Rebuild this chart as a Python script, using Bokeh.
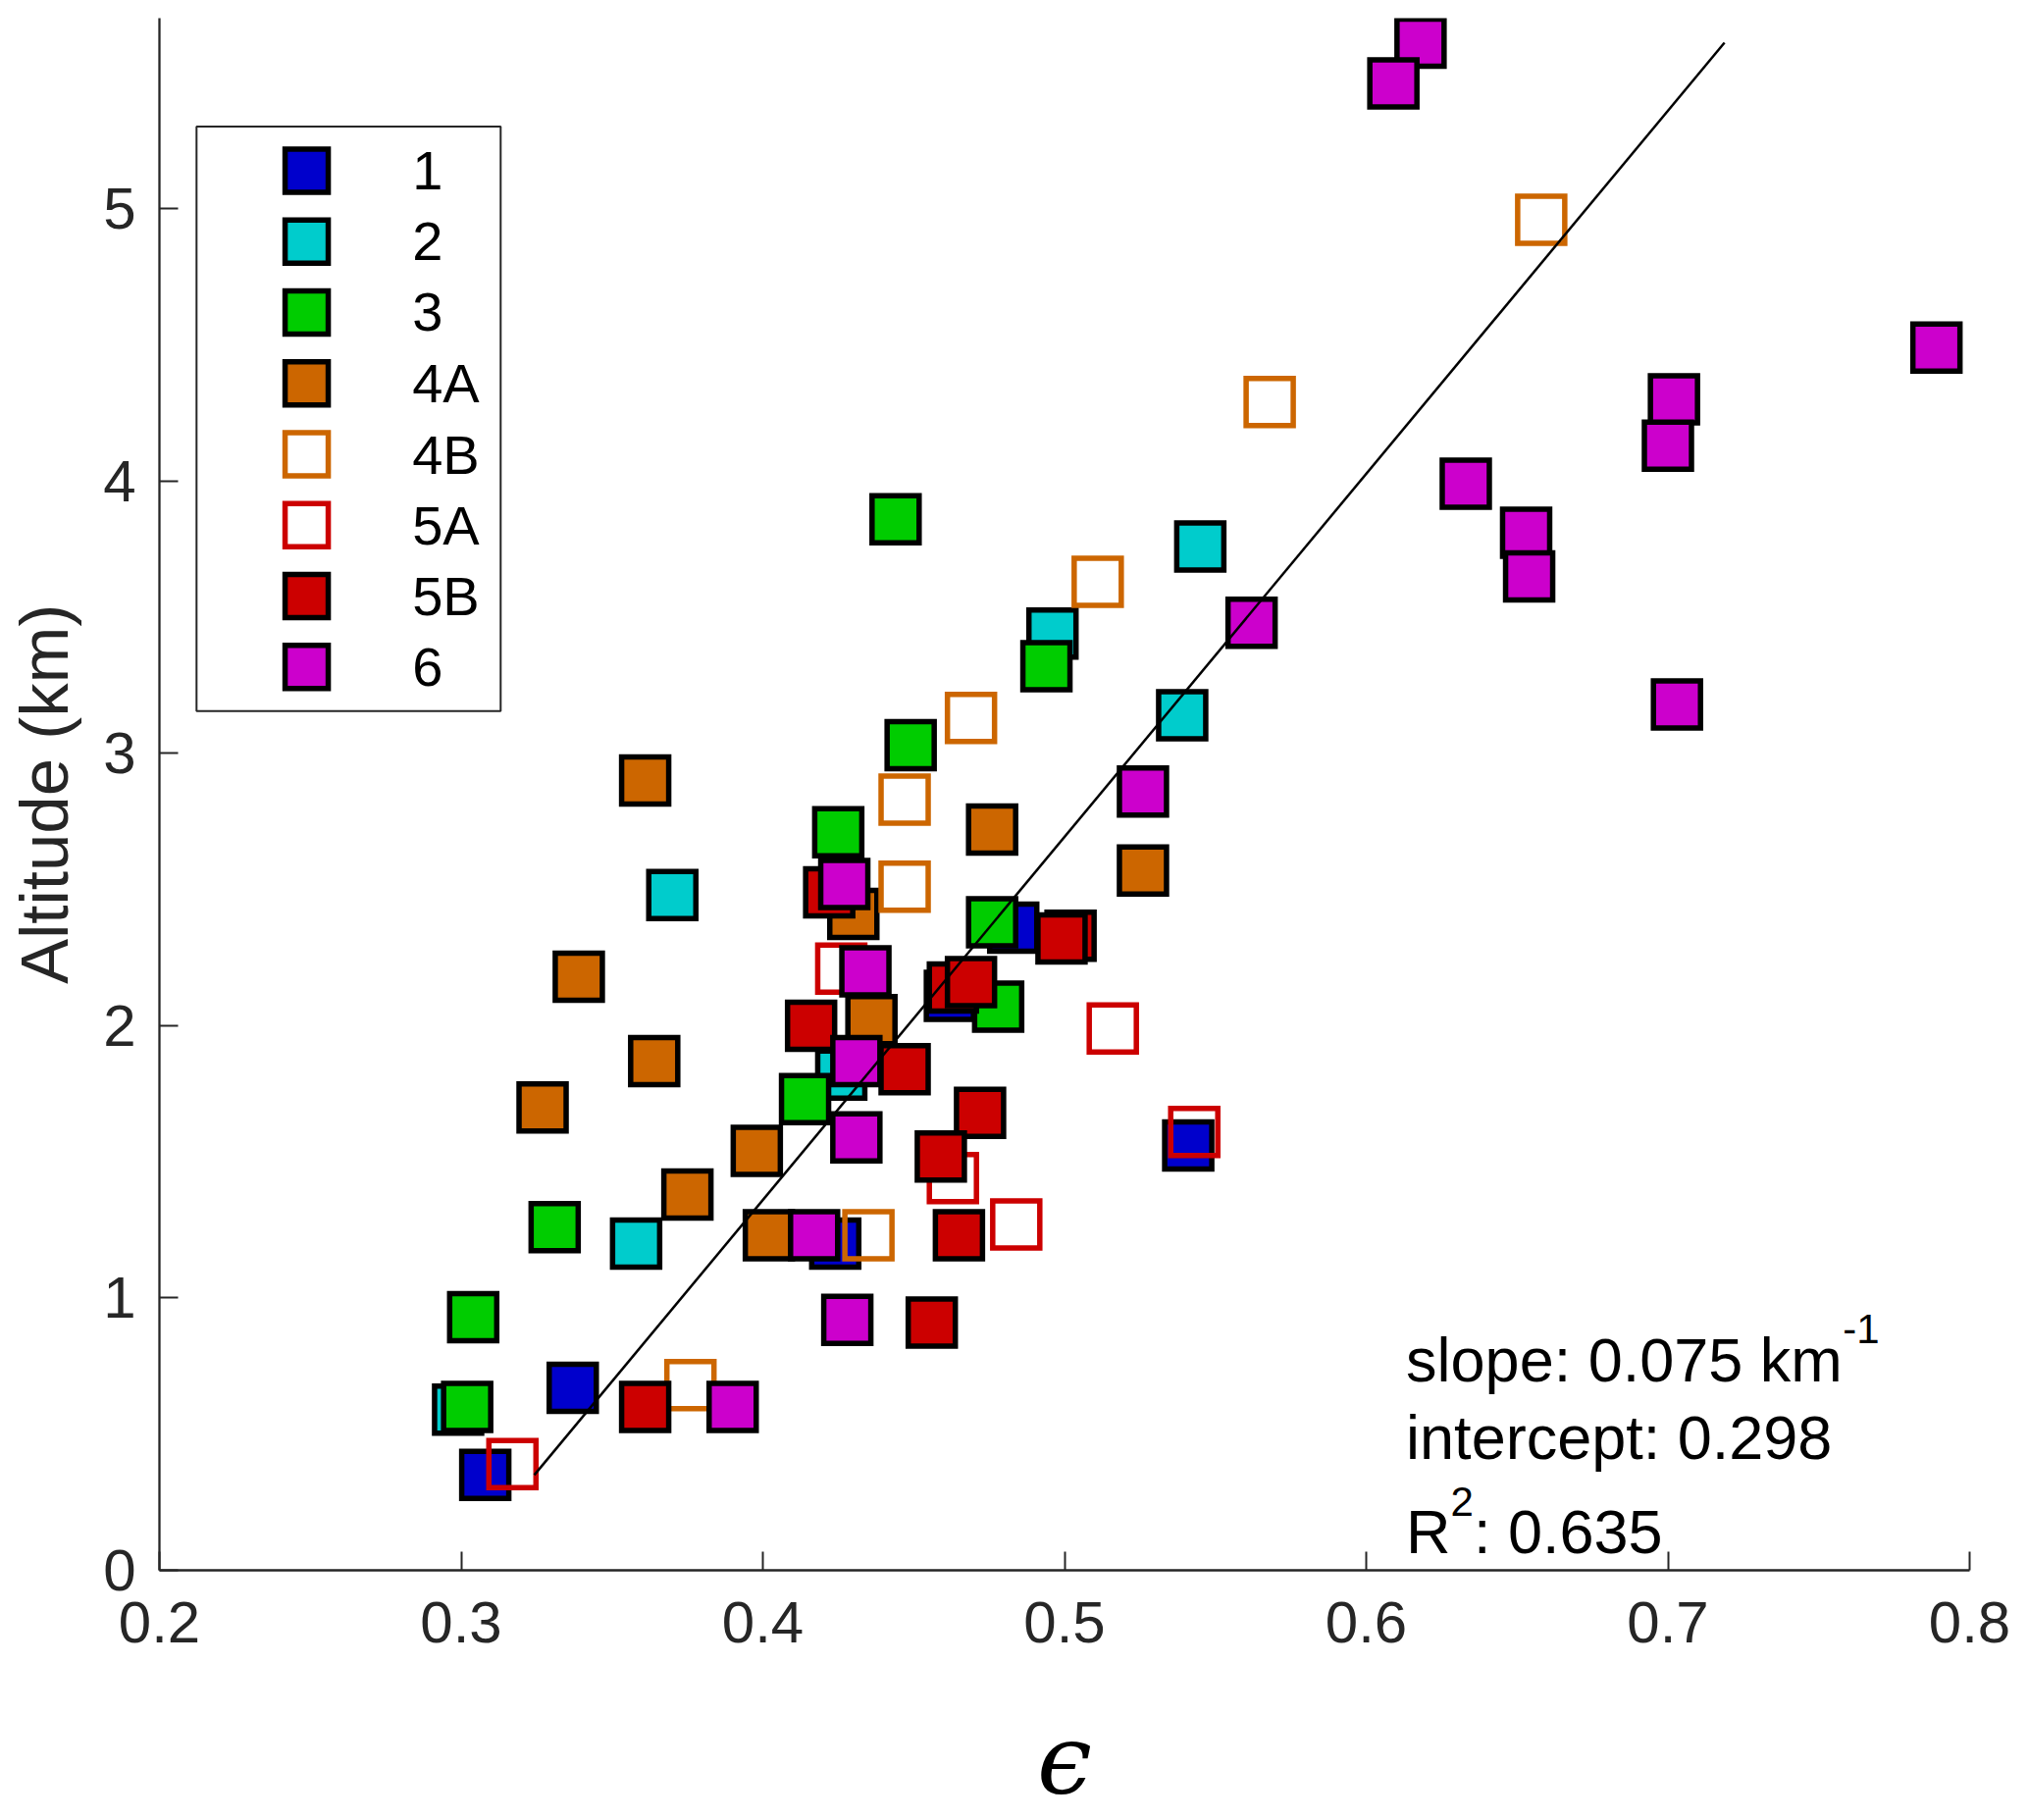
from bokeh.plotting import figure
from bokeh.models import Range1d, FixedTicker
from bokeh.core.properties import value
from bokeh.embed import file_html
from bokeh.resources import INLINE

# groups, in drawing order
labels = ["1", "2", "3", "4A", "4B", "5A", "5B", "6"]
colors = ["#0000CC", "#00CCCC", "#00CC00", "#CC6600", "#CC6600", "#CC0000", "#CC0000", "#CC00CC"]
filled = [True, True, True, True, False, False, True, True]

eps_1 = [0.483, 0.462, 0.541, 0.424, 0.337, 0.308]
alt_1 = [2.36, 2.11, 1.56, 1.20, 0.67, 0.35]

eps_2 = [0.545, 0.496, 0.539, 0.370, 0.426, 0.358, 0.299]
alt_2 = [3.76, 3.44, 3.14, 2.48, 1.82, 1.20, 0.59]

eps_3 = [0.444, 0.494, 0.449, 0.425, 0.476, 0.478, 0.414, 0.331, 0.304, 0.302]
alt_3 = [3.86, 3.32, 3.03, 2.71, 2.38, 2.07, 1.73, 1.26, 0.93, 0.60]

eps_4a = [0.361, 0.476, 0.526, 0.430, 0.339, 0.436, 0.364, 0.327, 0.398, 0.375, 0.402]
alt_4a = [2.90, 2.72, 2.57, 2.41, 2.18, 2.02, 1.87, 1.70, 1.54, 1.38, 1.23]

eps_4b = [0.658, 0.568, 0.511, 0.469, 0.447, 0.447, 0.435, 0.376]
alt_4b = [4.96, 4.29, 3.63, 3.13, 2.83, 2.51, 1.23, 0.68]

eps_5a = [0.426, 0.516, 0.543, 0.463, 0.484, 0.317]
alt_5a = [2.21, 1.99, 1.61, 1.44, 1.27, 0.39]

eps_5b = [0.422, 0.502, 0.499, 0.463, 0.469, 0.416, 0.447, 0.472, 0.459, 0.465, 0.456, 0.361]
alt_5b = [2.49, 2.33, 2.32, 2.14, 2.16, 2.00, 1.84, 1.68, 1.52, 1.23, 0.91, 0.60]

eps_6 = [0.618, 0.609, 0.789, 0.702, 0.700, 0.633, 0.653, 0.654, 0.562, 0.703,
         0.526, 0.427, 0.434, 0.431, 0.431, 0.417, 0.428, 0.390]
alt_6 = [5.61, 5.46, 4.49, 4.30, 4.13, 3.99, 3.81, 3.65, 3.48, 3.18,
         2.86, 2.52, 2.20, 1.87, 1.59, 1.23, 0.92, 0.60]

# linear fit: eps = intercept + slope * altitude
slope = 0.075
intercept = 0.298
r2 = 0.635

x_ticks = [0.2, 0.3, 0.4, 0.5, 0.6, 0.7, 0.8]
y_ticks = [0, 1, 2, 3, 4, 5]

eps_sets = [eps_1, eps_2, eps_3, eps_4a, eps_4b, eps_5a, eps_5b, eps_6]
alt_sets = [alt_1, alt_2, alt_3, alt_4a, alt_4b, alt_5a, alt_5b, alt_6]

FONT = "Liberation Sans"
AXC = "#262626"

p = figure(width=2060, height=1855, x_range=Range1d(0.2, 0.8), y_range=Range1d(0, 5.7),
           output_backend="svg", toolbar_location=None,
           min_border_left=162, min_border_right=53, min_border_top=18, min_border_bottom=255)
p.outline_line_color = None
p.grid.visible = False

p.xaxis.ticker = FixedTicker(ticks=x_ticks)
p.yaxis.ticker = FixedTicker(ticks=y_ticks)
for ax in (p.xaxis[0], p.yaxis[0]):
    ax.axis_line_color = AXC
    ax.axis_line_width = 2.3
    ax.major_tick_line_color = AXC
    ax.major_tick_line_width = 2
    ax.major_tick_in = 19
    ax.major_tick_out = 0
    ax.minor_tick_in = 0
    ax.minor_tick_out = 0
    ax.major_label_text_font = FONT
    ax.major_label_text_font_size = "60px"
    ax.major_label_text_color = AXC
p.xaxis.major_label_standoff = 32
p.yaxis.major_label_standoff = 24

p.yaxis.axis_label = "Altitude (km)"
p.yaxis.axis_label_text_font = FONT
p.yaxis.axis_label_text_font_size = "69px"
p.yaxis.axis_label_text_font_style = "normal"
p.yaxis.axis_label_text_color = AXC
p.yaxis.axis_label_standoff = 18

p.xaxis.axis_label = "\u03f5"
p.xaxis.axis_label_text_font = "DejaVu Serif"
p.xaxis.axis_label_text_font_size = "100px"
p.xaxis.axis_label_text_font_style = "italic"
p.xaxis.axis_label_text_color = "black"
p.xaxis.axis_label_text_line_height = 0.6
p.xaxis.axis_label_standoff = 58

for eps, alt, col, fill in zip(eps_sets, alt_sets, colors, filled):
    p.scatter(eps, alt, marker="square", size=48, line_width=5.5, line_join="miter",
              line_color="black" if fill else col, fill_color=col if fill else None)

alt_all = [a for s in alt_sets for a in s]
lo, hi = min(alt_all), max(alt_all)
p.line([intercept + slope * lo, intercept + slope * hi], [lo, hi], line_color="black", line_width=2.5)

# legend box
p.quad(left=0.2123, right=0.3131, top=5.302, bottom=3.155,
       fill_color="white", line_color=AXC, line_width=2)
leg_y = [5.140 - 0.2604 * i for i in range(len(labels))]
for yy, col, fill in zip(leg_y, colors, filled):
    p.scatter([0.2488], [yy], marker="square", size=44, line_width=5.5, line_join="miter",
              line_color="black" if fill else col, fill_color=col if fill else None)
p.text(x=[0.2838] * len(labels), y=leg_y, text=labels, text_font=value(FONT),
       text_font_size="56px", text_baseline="middle", text_align="left", text_color="black")

# fit statistics
p.text(x=[0.6132, 0.6132, 0.6132, 0.6356],
       y=[0.772, 0.488, 0.142, 0.142],
       text=[f"slope: {slope:.3f} km", f"intercept: {intercept:.3f}", "R", f": {r2:.3f}"],
       text_font=value(FONT), text_font_size="63px", text_baseline="alphabetic", text_color="black")
p.text(x=[0.7580, 0.6280], y=[0.888, 0.254], text=["-1", "2"],
       text_font=value(FONT), text_font_size="42px", text_baseline="alphabetic", text_color="black")

open("out.html", "w").write(file_html(p, INLINE))
